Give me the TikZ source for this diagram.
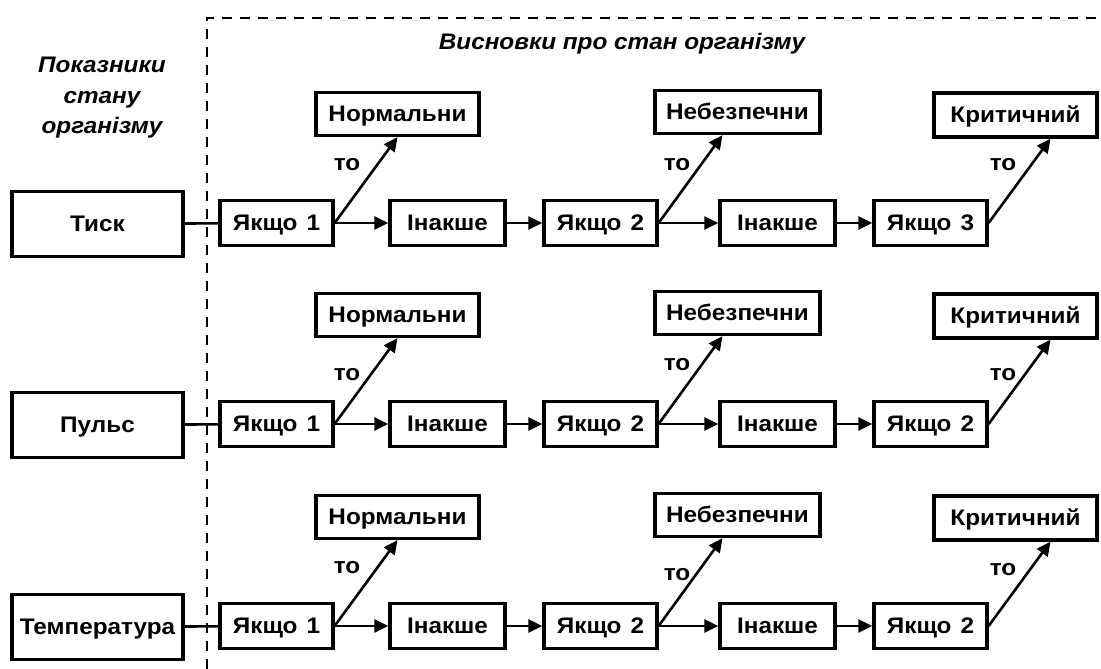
\documentclass[tikz,border=0pt]{standalone}
\usepackage{fontspec}
\setmainfont{Liberation Sans}[FakeStretch=1.08]
\usetikzlibrary{arrows.meta}
\newcommand\dfont{\fontsize{22.5}{26}\selectfont\bfseries}
\newcommand\ifont{\fontsize{22.5}{30.5}\selectfont\bfseries\itshape}
\begin{document}
\begin{tikzpicture}[x=1pt,y=-1pt,
  bx/.style={draw,line width=3.2pt,inner sep=0pt,font=\dfont,text height=15pt,text depth=0pt},
  srcbox/.style={bx,minimum width=171pt,minimum height=65pt},
  ifbox/.style={bx,minimum width=113pt,minimum height=45pt},
  elbox/.style={bx,minimum width=115pt,minimum height=45pt},
  resbox/.style={bx,minimum width=163pt,minimum height=43pt},
  conn/.style={line width=2.6pt},
  arr/.style={line width=2.6pt,-{Triangle[length=14pt,width=13pt]}},
  lbl/.style={font=\dfont,inner sep=0pt},
  frame/.style={line width=2.8pt,dash pattern=on 10pt off 8pt}
]
\useasboundingbox (0,0) rectangle (1101,669);
\draw[frame] (207,669) -- (207,18) -- (1098,18);
\node[font=\ifont] (tt) at (622,44) {Висновки про стан організму};
\node[font=\ifont,align=center] (lt) at (102,98) {Показники\\стану\\організму};
\foreach \r/\c/\lab/\k/\ta/\tb/\tc in {1/223/Тиск/3/58/58/58, 2/424/Пульс/2/49/59/49, 3/626/Температура/2/58/51/56}{
  \node[srcbox] (src\r) at (97.5,\c+1) {\lab};
  \node[ifbox] (a\r) at (276.5,\c) {Якщо\hspace{0.4em}1};
  \node[elbox] (b\r) at (447.5,\c) {Інакше};
  \node[ifbox] (c\r) at (600.5,\c) {Якщо\hspace{0.4em}2};
  \node[elbox] (d\r) at (777.5,\c) {Інакше};
  \node[ifbox] (e\r) at (930.5,\c) {Якщо\hspace{0.4em}\k};
  \node[resbox] (n\r) at (397.5,\c-109) {Нормальни};
  \node[resbox,minimum width=165pt] (w\r) at (737.5,\c-111) {Небезпечни};
  \node[resbox,minimum height=44pt] (k\r) at (1015.5,\c-108) {Критичний};
  \node[lbl] (t1\r) at (347,\c-\ta) {то};
  \node[lbl] (t2\r) at (677,\c-\tb) {то};
  \node[lbl] (t3\r) at (1003,\c-\tc) {то};
  \draw[conn] (src\r) -- (a\r);
  \draw[arr] (a\r) -- (b\r);
  \draw[arr] (b\r) -- (c\r);
  \draw[arr] (c\r) -- (d\r);
  \draw[arr] (d\r) -- (e\r);
  \draw[arr] (a\r.east) -- (n\r.south);
  \draw[arr] (c\r.east) -- ([xshift=-15pt]w\r.south);
  \draw[arr] (e\r.east) -- ([xshift=35pt]k\r.south);
}
\end{tikzpicture}
\end{document}
